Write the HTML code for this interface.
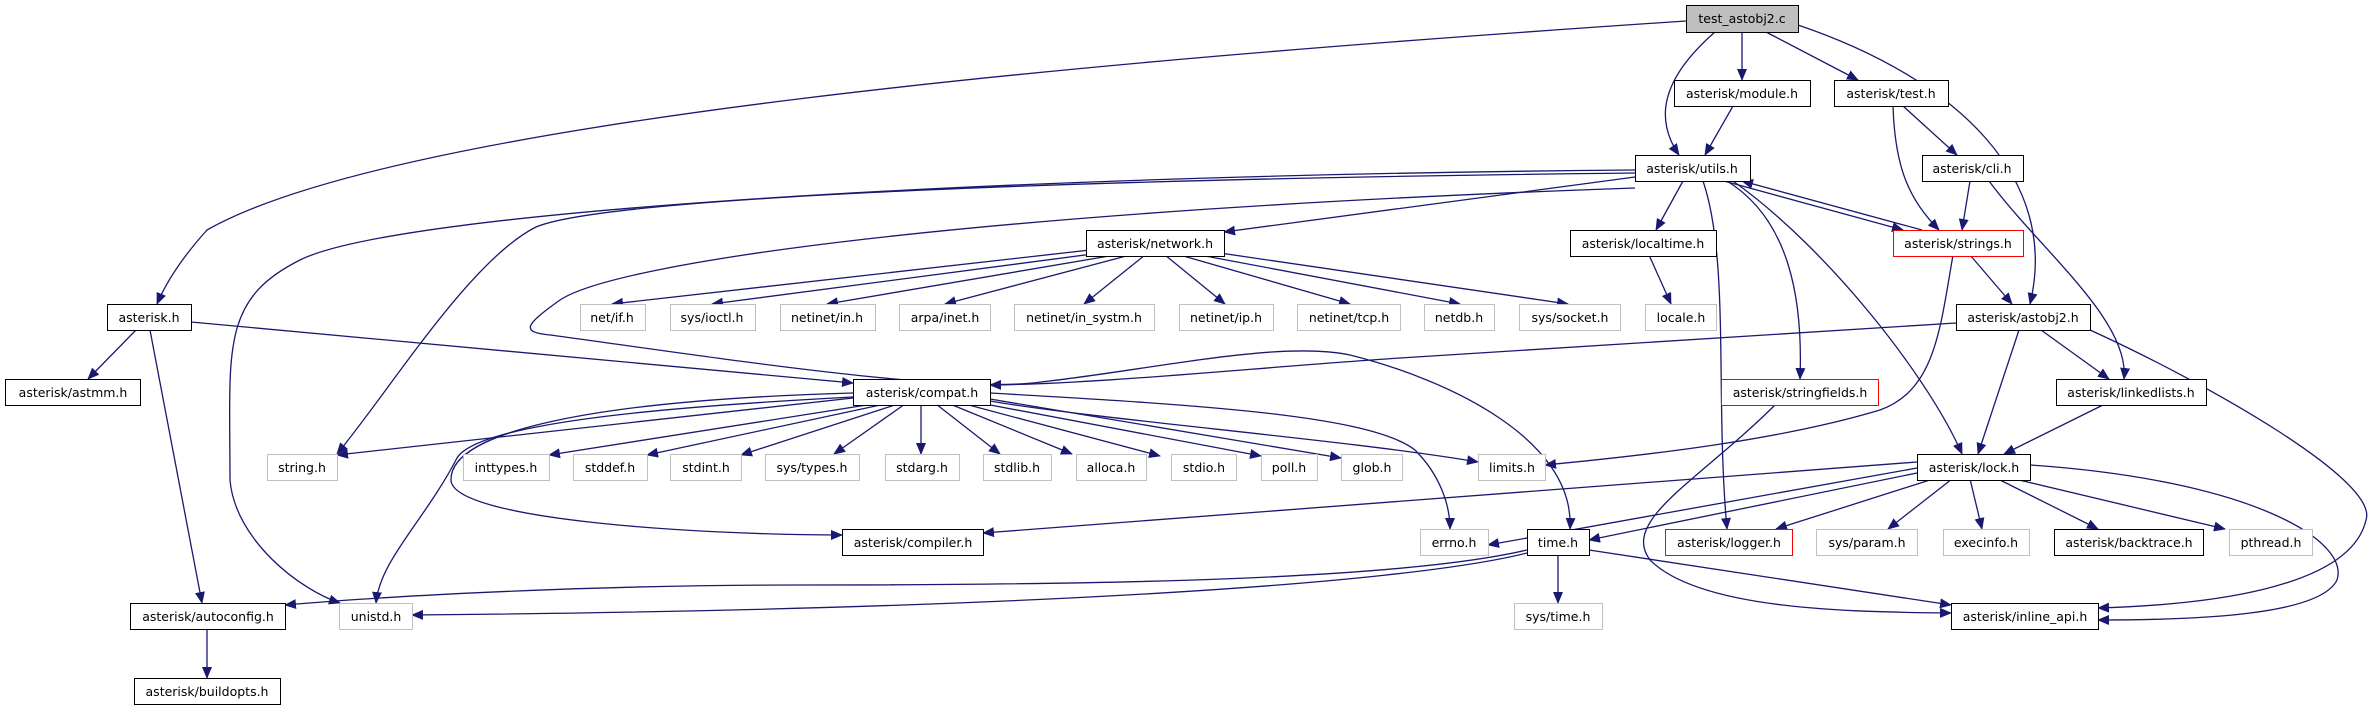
<!DOCTYPE html>
<html><head><meta charset="utf-8"><style>
html,body{margin:0;padding:0;background:#fff;}
svg text{font-family:"DejaVu Sans","Liberation Sans",sans-serif;font-size:12.5px;fill:#000;text-anchor:middle;}
</style></head><body>
<svg width="2373" height="709" viewBox="0 0 2373 709" xmlns="http://www.w3.org/2000/svg">
<defs><marker id="a" markerUnits="userSpaceOnUse" markerWidth="12" markerHeight="10" refX="11" refY="5" orient="auto"><path d="M0,0 L12,5 L0,10 z" fill="#191970"/></marker></defs>
<g fill="none" stroke="#191970" stroke-width="1.3" marker-end="url(#a)">
<path d="M1686,21 C1100,60 400,120 207,230 C180,260 165,285 157,304"/>
<path d="M1715,32 C1660,80 1655,120 1679,155"/>
<path d="M1742,32 L1742,80"/>
<path d="M1766,32 L1858,80"/>
<path d="M1798,25 C1960,80 2060,180 2030,304"/>
<path d="M1733,106 L1705,155"/>
<path d="M1893,106 C1895,170 1910,200 1939,230"/>
<path d="M1903,106 L1957,155"/>
<path d="M1970,181 L1962,230"/>
<path d="M1989,181 C2040,250 2130,320 2124,379"/>
<path d="M1724,181 L1903,230"/>
<path d="M1922,230 L1742,181"/>
<path d="M1970,255 L2012,304"/>
<path d="M1953,255 C1940,330 1935,390 1880,410 C1780,440 1650,455 1545,465"/>
<path d="M1683,181 L1656,230"/>
<path d="M1649,255 L1671,304"/>
<path d="M1635,177 L1224,232"/>
<path d="M1727,181 C1790,220 1803,300 1800,379"/>
<path d="M1733,181 C1830,250 1930,380 1962,454"/>
<path d="M1703,181 C1730,260 1715,400 1727,529"/>
<path d="M1635,170 C1000,175 400,210 300,260 C220,300 230,350 230,480 C235,540 300,590 340,603"/>
<path d="M1635,173 C1000,180 600,200 536,227 C470,260 390,390 337,454"/>
<path d="M1635,188 C1000,210 620,260 560,300 C525,325 520,332 550,335 C700,355 950,395 1041,382 C1150,370 1280,340 1350,355 C1450,380 1575,440 1570,529"/>
<path d="M1090,250 L612,304"/>
<path d="M1100,253 L712,304"/>
<path d="M1115,255 L827,304"/>
<path d="M1130,255 L945,304"/>
<path d="M1145,255 L1084,304"/>
<path d="M1165,255 L1225,304"/>
<path d="M1180,255 L1350,304"/>
<path d="M1200,255 L1460,304"/>
<path d="M1220,253 L1568,304"/>
<path d="M136,330 L88,379"/>
<path d="M150,330 L202,603"/>
<path d="M191,322 L853,383"/>
<path d="M1956,323 L1400,358 C1250,368 1100,384 990,385"/>
<path d="M2090,330 C2200,380 2380,480 2366,520 C2350,590 2200,605 2098,608"/>
<path d="M2041,330 L2109,379"/>
<path d="M2019,330 L1978,454"/>
<path d="M2105,404 L2004,454"/>
<path d="M2030,465 C2250,480 2350,540 2337,580 C2320,615 2200,620 2098,620"/>
<path d="M1776,404 C1700,480 1620,520 1650,560 C1700,610 1850,612 1951,613"/>
<path d="M1917,468 L1488,545"/>
<path d="M1917,473 L1589,540"/>
<path d="M1933,479 L1776,529"/>
<path d="M1952,479 L1888,529"/>
<path d="M1970,479 L1982,529"/>
<path d="M1998,479 L2098,529"/>
<path d="M2015,479 L2225,529"/>
<path d="M1917,462 L983,533"/>
<path d="M1527,550 C1400,580 1100,585 800,585 C600,585 400,595 285,605"/>
<path d="M1527,553 C1400,585 1000,610 412,615"/>
<path d="M1558,554 L1558,603"/>
<path d="M1589,550 L1951,605"/>
<path d="M853,398 L337,455"/>
<path d="M990,393 C1200,405 1370,415 1415,450 C1440,475 1450,505 1450,529"/>
<path d="M853,393 C600,400 450,430 451,480 C452,520 700,535 842,535"/>
<path d="M853,397 C700,405 480,420 457,458 C425,520 380,560 376,603"/>
<path d="M990,401 C1100,420 1350,440 1478,462"/>
<path d="M873,404 L549,455"/>
<path d="M885,404 L647,455"/>
<path d="M898,404 L741,455"/>
<path d="M905,404 L834,454"/>
<path d="M921,404 L921,454"/>
<path d="M936,404 L1000,454"/>
<path d="M950,404 L1072,454"/>
<path d="M965,404 L1160,456"/>
<path d="M985,404 L1261,456"/>
<path d="M990,399 L1341,458"/>
<path d="M207,629 L207,678"/>
</g>
<g stroke-width="1">
<rect x="1686.5" y="5.5" width="112" height="27" fill="#bfbfbf" stroke="#000"/><text x="1742" y="23">test_astobj2.c</text>
<g fill="#fff" stroke="#000">
<rect x="1674.5" y="80.5" width="136" height="26"/><rect x="1834.5" y="80.5" width="114" height="26"/>
<rect x="1635.5" y="155.5" width="115" height="26"/><rect x="1922.5" y="155.5" width="101" height="26"/>
<rect x="1086.5" y="230.5" width="138" height="26"/><rect x="1570.5" y="230.5" width="146" height="26"/>
<rect x="107.5" y="304.5" width="84" height="26"/><rect x="1956.5" y="304.5" width="134" height="26"/>
<rect x="5.5" y="379.5" width="135" height="26"/><rect x="853.5" y="379.5" width="137" height="26"/>
<rect x="2056.5" y="379.5" width="150" height="26"/><rect x="1917.5" y="454.5" width="113" height="26"/>
<rect x="842.5" y="529.5" width="141" height="26"/><rect x="1527.5" y="529.5" width="62" height="26"/>
<rect x="2054.5" y="529.5" width="149" height="26"/><rect x="130.5" y="603.5" width="155" height="26"/>
<rect x="1951.5" y="603.5" width="147" height="26"/><rect x="134.5" y="678.5" width="146" height="26"/>
</g>
<g fill="#fff" stroke="#ff0000">
<rect x="1893.5" y="230.5" width="130" height="26"/><rect x="1721.5" y="379.5" width="157" height="26"/><rect x="1665.5" y="529.5" width="127" height="26"/>
</g>
<g fill="#fff" stroke="#bfbfbf">
<rect x="580.5" y="304.5" width="65" height="26"/><rect x="670.5" y="304.5" width="85" height="26"/>
<rect x="780.5" y="304.5" width="95" height="26"/><rect x="899.5" y="304.5" width="91" height="26"/>
<rect x="1014.5" y="304.5" width="140" height="26"/><rect x="1179.5" y="304.5" width="94" height="26"/>
<rect x="1297.5" y="304.5" width="103" height="26"/><rect x="1424.5" y="304.5" width="70" height="26"/>
<rect x="1519.5" y="304.5" width="101" height="26"/><rect x="1645.5" y="304.5" width="71" height="26"/>
<rect x="267.5" y="454.5" width="70" height="26"/><rect x="463.5" y="454.5" width="86" height="26"/>
<rect x="573.5" y="454.5" width="74" height="26"/><rect x="670.5" y="454.5" width="71" height="26"/>
<rect x="765.5" y="454.5" width="94" height="26"/><rect x="885.5" y="454.5" width="74" height="26"/>
<rect x="983.5" y="454.5" width="68" height="26"/><rect x="1076.5" y="454.5" width="70" height="26"/>
<rect x="1171.5" y="454.5" width="65" height="26"/><rect x="1261.5" y="454.5" width="56" height="26"/>
<rect x="1341.5" y="454.5" width="61" height="26"/><rect x="1478.5" y="454.5" width="67" height="26"/>
<rect x="1420.5" y="529.5" width="68" height="26"/><rect x="1816.5" y="529.5" width="101" height="26"/>
<rect x="1943.5" y="529.5" width="86" height="26"/><rect x="2229.5" y="529.5" width="83" height="26"/>
<rect x="339.5" y="603.5" width="73" height="26"/><rect x="1514.5" y="603.5" width="88" height="26"/>
</g>
</g>
<g>
<text x="1742" y="98">asterisk/module.h</text><text x="1891" y="98">asterisk/test.h</text>
<text x="1692" y="173">asterisk/utils.h</text><text x="1972" y="173">asterisk/cli.h</text>
<text x="1155" y="248">asterisk/network.h</text><text x="1643" y="248">asterisk/localtime.h</text><text x="1958" y="248">asterisk/strings.h</text>
<text x="149" y="322">asterisk.h</text><text x="2023" y="322">asterisk/astobj2.h</text>
<text x="612" y="322">net/if.h</text><text x="712" y="322">sys/ioctl.h</text><text x="827" y="322">netinet/in.h</text>
<text x="945" y="322">arpa/inet.h</text><text x="1084" y="322">netinet/in_systm.h</text><text x="1226" y="322">netinet/ip.h</text>
<text x="1349" y="322">netinet/tcp.h</text><text x="1459" y="322">netdb.h</text><text x="1570" y="322">sys/socket.h</text><text x="1681" y="322">locale.h</text>
<text x="73" y="397">asterisk/astmm.h</text><text x="922" y="397">asterisk/compat.h</text>
<text x="1800" y="397">asterisk/stringfields.h</text><text x="2131" y="397">asterisk/linkedlists.h</text>
<text x="302" y="472">string.h</text><text x="506" y="472">inttypes.h</text><text x="610" y="472">stddef.h</text>
<text x="706" y="472">stdint.h</text><text x="812" y="472">sys/types.h</text><text x="922" y="472">stdarg.h</text>
<text x="1017" y="472">stdlib.h</text><text x="1111" y="472">alloca.h</text><text x="1204" y="472">stdio.h</text>
<text x="1289" y="472">poll.h</text><text x="1372" y="472">glob.h</text><text x="1512" y="472">limits.h</text>
<text x="1974" y="472">asterisk/lock.h</text>
<text x="913" y="547">asterisk/compiler.h</text><text x="1454" y="547">errno.h</text><text x="1558" y="547">time.h</text>
<text x="1729" y="547">asterisk/logger.h</text><text x="1867" y="547">sys/param.h</text><text x="1986" y="547">execinfo.h</text>
<text x="2129" y="547">asterisk/backtrace.h</text><text x="2271" y="547">pthread.h</text>
<text x="208" y="621">asterisk/autoconfig.h</text><text x="376" y="621">unistd.h</text><text x="1558" y="621">sys/time.h</text>
<text x="2025" y="621">asterisk/inline_api.h</text>
<text x="207" y="696">asterisk/buildopts.h</text>
</g>
</svg>
</body></html>
